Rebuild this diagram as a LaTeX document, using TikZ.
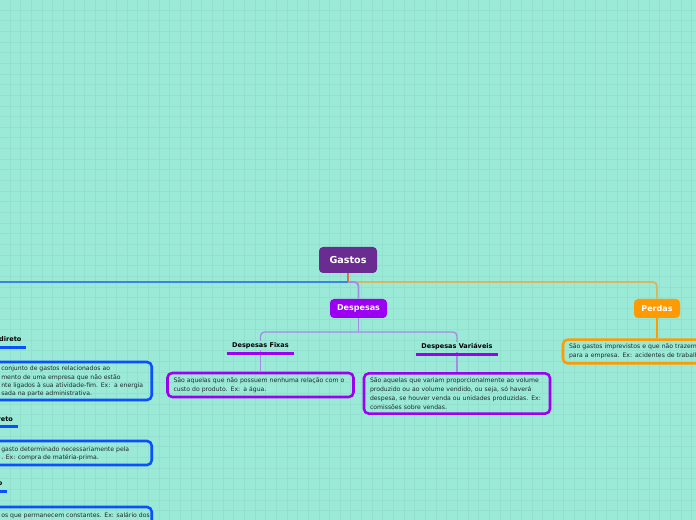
\documentclass[tikz,border=0pt]{standalone}
\usepackage{fontspec}
\setmainfont{DejaVu Sans}
\usetikzlibrary{calc, positioning}
\definecolor{mapbg}{HTML}{9BEAD7}
\definecolor{mapgrid}{HTML}{92E0CD}
\definecolor{rootpurple}{HTML}{6A2C91}
\definecolor{desppurple}{HTML}{9B00F2}
\definecolor{perdorange}{HTML}{FF9A00}
\definecolor{custoblue}{HTML}{0A50FF}
\definecolor{lavline}{HTML}{A68AE6}
\definecolor{leftline}{HTML}{3C84E4}
\definecolor{rightline}{HTML}{D6B860}
\definecolor{rootline}{HTML}{E0703C}
\definecolor{textdark}{HTML}{1E2A2A}

\begin{document}
\begin{tikzpicture}[x=0.75pt, y=-0.75pt,
    rootnode/.style={fill=rootpurple, rounded corners=3pt, text=white,
                     font=\fontsize{7.2}{8}\selectfont\bfseries,
                     minimum width=43.5pt, minimum height=19.5pt},
    branch/.style={rounded corners=3pt, text=white,
                   font=\fontsize{6}{7}\selectfont\bfseries, minimum height=14.25pt},
    sublabel/.style={font=\fontsize{4.9}{6}\selectfont\bfseries, text=black, inner sep=1pt},
    notebox/.style={draw, line width=1.9pt, rounded corners=3.5pt, text=textdark,
                    align=left, text width=130.5pt, inner xsep=4.5pt,
                    font=\fontsize{4.6}{6.6}\selectfont},
    cutbox/.style={draw=custoblue, line width=1.9pt, rounded corners=3.5pt,
                   minimum width=139.5pt},
    notetext/.style={text=textdark, align=left, inner sep=0pt,
                     font=\fontsize{4.6}{6.2}\selectfont},
    uline/.style={line width=2.2pt},
    mainconn/.style={line width=1.4pt, rounded corners=3pt},
    subconn/.style={line width=1pt, rounded corners=3pt}
  ]
    \useasboundingbox (0,0) rectangle (696,520);
    \clip (0,0) rectangle (696,520);
    \fill[mapbg] (0,0) rectangle (696,520);
    \foreach \g in {0,...,65}
      \draw[mapgrid, line width=0.5pt] ({10+10.65*\g},0) -- ({10+10.65*\g},520);
    \foreach \g in {0,...,48}
      \draw[mapgrid, line width=0.5pt] (0,{10+10.65*\g}) -- (696,{10+10.65*\g});

    % root and main branches
    \node[rootnode] (gastos) at (348,260) {Gastos};
    \node[branch, fill=desppurple, minimum width=42.75pt] (despesas) at (358.5,308.5) {Despesas};
    \node[branch, fill=perdorange, minimum width=34.5pt] (perdas) at (657,308.5) {Perdas};

    \coordinate (hub) at (348,282);
    \coordinate (westend) at (-5,282);
    \coordinate (dbus) at (358.5,332);

    \draw[mainconn, rootline] (gastos.south) -- (hub);
    \draw[mainconn, leftline] (hub) -- (westend);
    \draw[mainconn, rightline] (hub) -| (perdas.north);
    \draw[mainconn, lavline] (hub) -| (despesas.north);

    % Despesas
    \node[sublabel] (fixas) at (260.5,345.5) {Despesas Fixas};
    \node[sublabel] (variaveis) at (457,347) {Despesas Variáveis};

    \draw[subconn, lavline] (despesas.south) -- (dbus);
    \draw[subconn, lavline] (dbus) -| (fixas.north);
    \draw[subconn, lavline] (dbus) -| (variaveis.north);

    \node[notebox, draw=desppurple, minimum height=18pt] (fbox) at (260.5,385)
      {São aquelas que não possuem nenhuma relação com o\\custo do produto. Ex: a água.};
    \node[notebox, draw=desppurple, minimum height=27.75pt] (vbox) at (457,393.5)
      {São aquelas que variam proporcionalmente ao volume\\produzido ou ao volume vendido, ou seja, só haverá\\despesa, se houver venda ou unidades produzidas. Ex:\\comissões sobre vendas.};

    \draw[subconn, lavline] (fixas.south) -- (fbox.north);
    \draw[subconn, lavline] (variaveis.south) -- (vbox.north);
    \draw[uline, desppurple] ($(fixas.south west)+(-4,3)$) -- ($(fixas.south east)+(4,3)$);
    \draw[uline, desppurple] ($(variaveis.south west)+(-4,3)$) -- ($(variaveis.south east)+(4,3)$);

    % Perdas
    \node[notebox, draw=perdorange, minimum height=17.25pt] (pbox) at (656,351.5)
      {São gastos imprevistos e que não trazem\\para a empresa. Ex: acidentes de trabalho};
    \draw[line width=0.8pt, perdorange] (perdas.south) -- (perdas.south |- pbox.north);

    % left branch (cut by the edge)
    \node[sublabel, anchor=east] (indlbl) at (23,339) {direto};
    \draw[uline, custoblue] ($(indlbl.south east)+(-40,4)$) -- ($(indlbl.south east)+(3,4)$);
    \node[cutbox, minimum height=28.5pt, anchor=east] (indbox) at (153,381) {};
    \node[notetext, anchor=north west] (indtxt) at (1,366)
      {conjunto de gastos relacionados ao\\mento de uma empresa que não estão\\nte ligados à sua atividade-fim. Ex:\ \ a energia\\sada na parte administrativa.};

    \node[sublabel, anchor=east] (dirlbl) at (14.5,419) {reto};
    \draw[uline, custoblue] ($(dirlbl.south east)+(-40,4)$) -- ($(dirlbl.south east)+(3,4)$);
    \node[cutbox, minimum height=18pt, anchor=east] (dirbox) at (153,453) {};
    \node[notetext, anchor=north west] (dirtxt) at (1,446.5)
      {gasto determinado necessariamente pela\\. Ex: compra de matéria-prima.};

    \node[sublabel, anchor=east] (fixlbl) at (4,484) {o};
    \draw[uline, custoblue] ($(fixlbl.south east)+(-40,4)$) -- ($(fixlbl.south east)+(3,4)$);
    \node[cutbox, minimum height=18pt, anchor=east] (fixbox) at (153,519) {};
    \node[notetext, anchor=north west] (fixtxt) at (1,512.5)
      {os que permanecem constantes. Ex: salário dos};
  \end{tikzpicture}
\end{document}
